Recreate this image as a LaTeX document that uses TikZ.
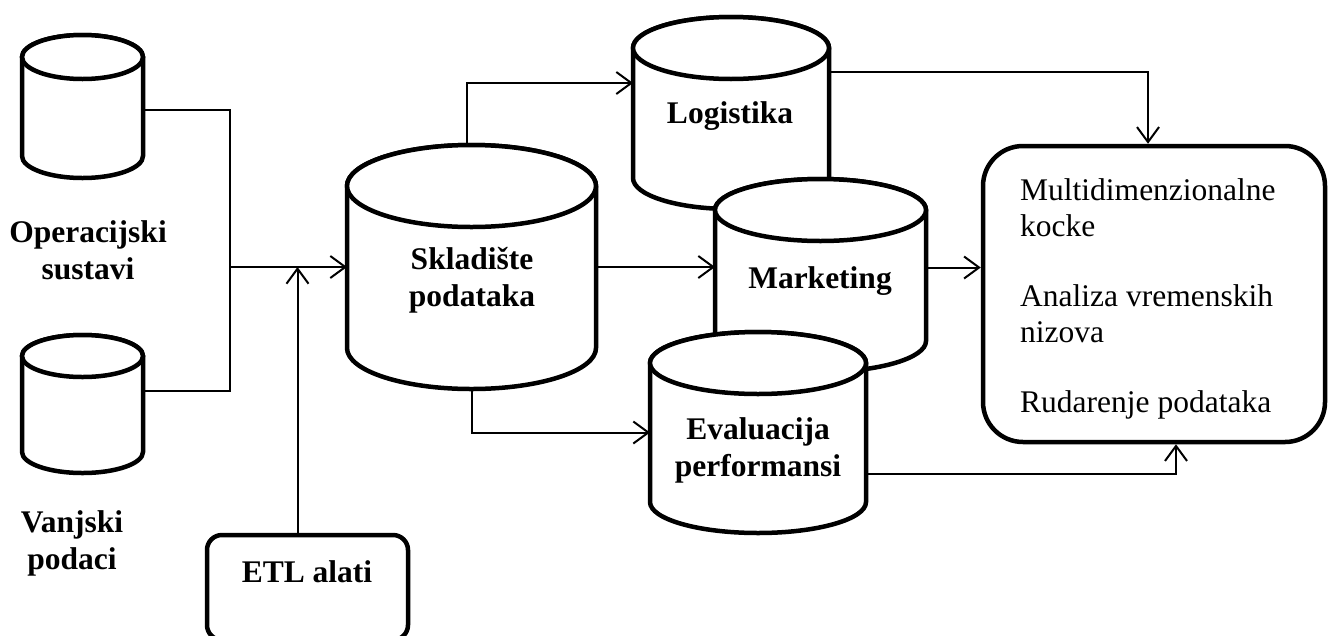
\documentclass[tikz,border=0pt]{standalone}
\usepackage{fontspec}
\setmainfont{Liberation Serif}
\usetikzlibrary{arrows.meta}
\tikzset{
  cylline/.style={line width=4.5pt, draw=black, fill=white},
  conn/.style={line width=2pt, draw=black},
  arr/.style={conn, -{Straight Barb[length=15pt,width=22pt]}},
  blabel/.style={font=\fontsize{31.5}{37}\selectfont\bfseries, align=center, inner sep=0pt},
  rlabel/.style={font=\fontsize{31.5}{36}\selectfont, align=left, inner sep=0pt},
  roundbox/.style={draw=black, line width=4.5pt, fill=white, inner sep=0pt},
}
% name, x1, x2, ytop, ybottom, ry  (pixel coordinates, y downward)
\newcommand\dbcyl[6]{%
  \pgfmathsetmacro\myrx{(#3-#2)/2}%
  \pgfmathsetmacro\mycx{(#3+#2)/2}%
  \pgfmathsetmacro\mycy{-(#4+#5)/2}%
  \filldraw[cylline] (#2,-#4-#6) -- (#2,-#5+#6)
    arc[start angle=180,end angle=360,x radius=\myrx,y radius=#6]
    -- (#3,-#4-#6)
    arc[start angle=0,end angle=180,x radius=\myrx,y radius=#6] -- cycle;
  \draw[cylline] (\mycx,-#4-#6) ellipse[x radius=\myrx,y radius=#6];
  \node[inner sep=0pt,outer sep=0pt,minimum width={#3-#2},minimum height={#5-#4}] (#1) at (\mycx,\mycy) {};%
}
\begin{document}
\begin{tikzpicture}[x=1pt,y=1pt]
\useasboundingbox (0,0) rectangle (1329,-635);

% cylinders
\dbcyl{ops}{22}{143}{35}{178}{22}
\dbcyl{ext}{22}{143}{335}{473}{21}
\dbcyl{skl}{347}{596}{145}{389}{41}
\dbcyl{log}{633}{829}{17}{209}{31}
\dbcyl{mkt}{715}{926}{179}{372}{31}
\dbcyl{eva}{650}{866}{332}{533}{31}

% boxes
\node[roundbox, rounded corners=15pt, minimum width=201, minimum height=105] (etl) at (307.5,-587.5) {};
\node[roundbox, rounded corners=40pt, minimum width=342, minimum height=296] (out) at (1154,-294) {};

% labels
\node[blabel] (opsL) at (88,-250) {Operacijski\\sustavi};
\node[blabel] (extL) at (72,-543) {Vanjski\\podaci};
\node[blabel] (etlL) at (307,-572) {ETL alati};
\node[blabel] (sklL) at (472,-280) {Skladište\\podataka};
\node[blabel] (logL) at (730,-116) {Logistika};
\node[blabel] (mktL) at (820,-281) {Marketing};
\node[blabel] (evaL) at (758,-450) {Evaluacija\\performansi};
\node[rlabel, anchor=north west] (outL) at (1020,-178.5)
  {Multidimenzionalne\\kocke\\[34pt]Analiza vremenskih\\nizova\\[34pt]Rudarenje podataka};

% connectors
\coordinate (j) at (230,-267);
\draw[conn] ([yshift=-3.5pt]ops.east) -| (j);
\draw[conn] ([yshift=13pt]ext.east) -| (j);
\draw[arr] (j) -- (j -| skl.west);
\coordinate (etlTop) at ([xshift=-10pt]etl.north);
\draw[arr] (etlTop) -- (etlTop |- j);

\coordinate (sklTop) at ([xshift=-5pt]skl.north);
\draw[arr] (sklTop) |- ([yshift=30pt]log.west);
\draw[arr] (skl.east) -- (skl.east -| mkt.west);
\draw[arr] (skl.south) |- (eva.west);

\draw[arr] ([yshift=41pt]log.east) -| ([xshift=-6pt]out.north);
\coordinate (mo) at ([yshift=8pt]mkt.east);
\draw[arr] (mo) -- (mo -| out.west);
\coordinate (eo) at ([yshift=-41.5pt]eva.east);
\draw[arr] (eo) -| ([xshift=22pt]out.south);
\end{tikzpicture}
\end{document}
